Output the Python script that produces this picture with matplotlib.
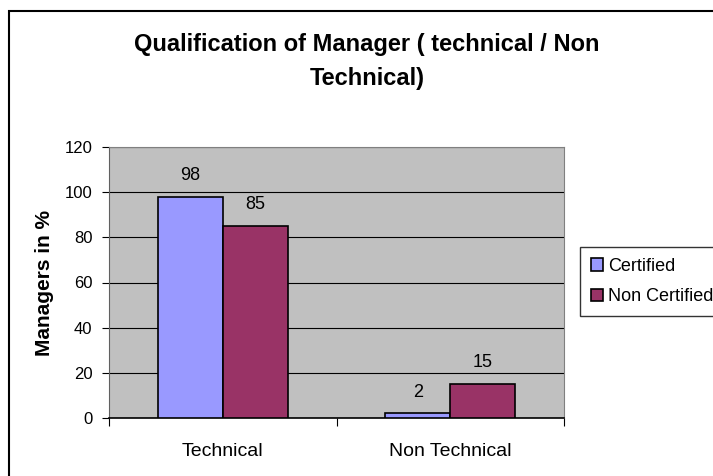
import matplotlib.pyplot as plt
import matplotlib.patches as patches
import numpy as np

categories = ["Technical", "Non Technical"]
certified = [98, 2]
non_certified = [85, 15]
series_names = ["Certified", "Non Certified"]

plt.rcParams['font.family'] = ['Liberation Sans', 'DejaVu Sans']

W, H = 713, 476
fig = plt.figure(figsize=(W / 100, H / 100), dpi=100, facecolor='white')

# outer chart border (runs off the right and bottom edges)
fig.patches.append(patches.Rectangle((9 / W, -0.1), 1.2, 1 - 11 / H + 0.1,
                                     transform=fig.transFigure, fill=False,
                                     edgecolor='black', linewidth=1.5))

ax = fig.add_axes([109 / W, (H - 418) / H, 455 / W, 271 / H])
ax.set_facecolor('#C0C0C0')

x = np.arange(len(categories))
w = 1 / 3.5
b1 = ax.bar(x - w / 2, certified, w, color='#9999FF', edgecolor='black',
            linewidth=1.2, label=series_names[0], zorder=3)
b2 = ax.bar(x + w / 2, non_certified, w, color='#993366', edgecolor='black',
            linewidth=1.2, label=series_names[1], zorder=3)

for bars, vals in ((b1, certified), (b2, non_certified)):
    for r, v in zip(bars, vals):
        ax.annotate(str(v), (r.get_x() + r.get_width() / 2, v),
                    xytext=(0, 12), textcoords='offset points',
                    ha='center', va='baseline', fontsize=13)

ax.set_ylim(0, 120)
ax.set_yticks(range(0, 121, 20))
ax.yaxis.grid(True, color='black', linewidth=0.8, zorder=1)
ax.set_axisbelow(True)
ax.set_xlim(-0.5, 1.5)
ax.set_xticks([-0.5, 0.5, 1.5])
ax.set_xticklabels([])
ax.set_xticks(x, minor=True)
ax.set_xticklabels(categories, minor=True)
ax.tick_params(axis='x', which='minor', length=0, pad=18, labelsize=14)
ax.tick_params(axis='x', which='major', length=6, direction='out')
ax.tick_params(axis='y', length=5, direction='out', labelsize=12, pad=7)

for s in ('top', 'right'):
    ax.spines[s].set_color('#808080')
ax.spines['left'].set_color('#606060')
ax.spines['bottom'].set_color('black')
ax.spines['bottom'].set_linewidth(1.2)

ax.set_ylabel('Managers in %', fontsize=15, fontweight='bold')
ax.yaxis.set_label_coords(-0.121, 0.5)

title_font = dict(ha='center', va='center', fontsize=17, fontweight='bold')
fig.text(367 / W, 1 - 44 / H, 'Qualification of Manager ( technical / Non',
         **title_font)
fig.text(367 / W, 1 - 78 / H, 'Technical)', **title_font)

leg = ax.legend(loc='upper left', bbox_to_anchor=(580 / W, 1 - 247 / H),
                bbox_transform=fig.transFigure, fontsize=13,
                frameon=True, fancybox=False, edgecolor='black',
                handlelength=0.67, handleheight=0.67, handletextpad=0.3,
                borderpad=0.6, labelspacing=0.75, borderaxespad=0)
leg.get_frame().set_linewidth(1.0)

fig.savefig('out.png', dpi=100)
